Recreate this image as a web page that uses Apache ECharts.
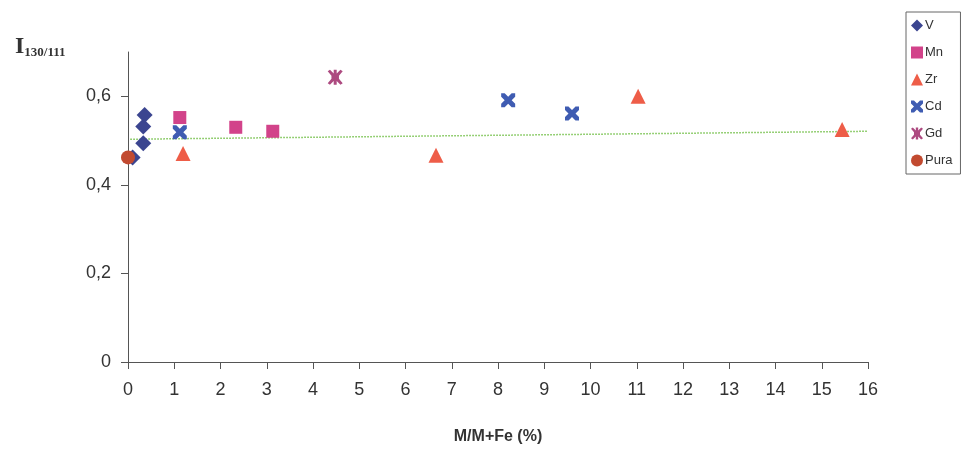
<!DOCTYPE html>
<html>
<head>
<meta charset="utf-8">
<style>
  html, body { margin: 0; padding: 0; background: #fff; }
  #chart { width: 968px; height: 453px; }
</style>
</head>
<body>
<div id="chart"></div>
<script src="https://cdn.jsdelivr.net/npm/echarts@6/dist/echarts.min.js"></script>
<script>
// values
const seriesNames = ['V', 'Mn', 'Zr', 'Cd', 'Gd', 'Pura'];
const vData = [[0.1, 0.462], [0.33, 0.494], [0.33, 0.532], [0.36, 0.558]];
const mnData = [[1.12, 0.552], [2.33, 0.530], [3.13, 0.521]];
const zrData = [[1.19, 0.471], [6.66, 0.467], [11.03, 0.600], [15.44, 0.525]];
const cdData = [[1.12, 0.519], [8.22, 0.591], [9.6, 0.561]];
const gdData = [[4.48, 0.643]];
const puraData = [[0, 0.462]];
const trendData = [[0.05, 0.503], [16, 0.521]];
const xTicks = [0, 16, 1];
const yTicks = [0, 0.7, 0.2];

const crossPath = 'path://M0,0 L2.5,0 L5,2.5 L7.5,0 L10,0 L10,2.5 L7.5,5 L10,7.5 L10,10 L7.5,10 L5,7.5 L2.5,10 L0,10 L0,7.5 L2.5,5 L0,2.5 Z';
const starPath = 'path://M0,1 L1.5,0 L4,2.5 L4,0 L6,0 L6,2.5 L8.5,0 L10,1 L7.5,4 L7.5,6 L10,9 L8.5,10 L6,7.5 L6,10 L4,10 L4,7.5 L1.5,10 L0,9 L2.5,6 L2.5,4 Z';

const colors = {
  V: '#3b4590',
  Mn: '#d2438a',
  Zr: '#ee5d48',
  Cd: '#3f5cb2',
  Gd: '#ad4a80',
  Pura: '#c24a30'
};

const chart = echarts.init(document.getElementById('chart'));

const scatter = (name, data, symbol, size) => ({
  name: name,
  type: 'scatter',
  data: data,
  symbol: symbol,
  symbolSize: size,
  itemStyle: { color: colors[name], opacity: 1 },
  z: 3
});

chart.setOption({
  animation: false,
  backgroundColor: '#fff',
  grid: { left: 128, right: 100, top: 52, bottom: 91 },
  title: {
    text: '{big|I}{sub|130/111}',
    left: 10,
    top: 30,
    textStyle: {
      rich: {
        big: { fontFamily: 'Liberation Serif', fontWeight: 'bold', fontSize: 24, color: '#333' },
        sub: { fontFamily: 'Liberation Serif', fontWeight: 'bold', fontSize: 13, color: '#333', verticalAlign: 'bottom', padding: [8, 0, 0, 0] }
      }
    }
  },
  legend: {
    orient: 'vertical',
    left: 906,
    top: 12,
    data: seriesNames,
    itemWidth: 12,
    itemHeight: 12,
    itemGap: 14,
    padding: [7, 8, 7, 5],
    borderColor: '#666',
    borderWidth: 1,
    textStyle: { fontFamily: 'Liberation Sans', fontSize: 13, color: '#333', padding: [0, 0, 0, -3] }
  },
  xAxis: {
    type: 'value',
    min: xTicks[0],
    max: xTicks[1],
    interval: xTicks[2],
    name: 'M/M+Fe (%)',
    nameLocation: 'middle',
    nameGap: 67,
    nameTextStyle: { fontFamily: 'Liberation Sans', fontWeight: 'bold', fontSize: 16, color: '#333' },
    splitLine: { show: false },
    axisLine: { lineStyle: { color: '#555', width: 1 } },
    axisTick: { show: true, length: 7, lineStyle: { color: '#555' } },
    axisLabel: { fontFamily: 'Liberation Sans', fontSize: 18, color: '#333', margin: 19 }
  },
  yAxis: {
    type: 'value',
    min: yTicks[0],
    max: yTicks[1],
    interval: yTicks[2],
    splitLine: { show: false },
    axisLine: { show: true, lineStyle: { color: '#555', width: 1 } },
    axisTick: { show: true, length: 7, lineStyle: { color: '#555' } },
    axisLabel: {
      fontFamily: 'Liberation Sans',
      fontSize: 18,
      color: '#333',
      margin: 17,
      showMaxLabel: false,
      formatter: (v) => String(v).replace('.', ',')
    }
  },
  series: [
    {
      name: 'trend',
      type: 'line',
      data: trendData,
      symbol: 'none',
      lineStyle: { color: '#74c04a', width: 1.5, type: 'dotted' },
      z: 2
    },
    scatter('V', vData, 'diamond', 16),
    scatter('Mn', mnData, 'rect', 13),
    scatter('Zr', zrData, 'triangle', 15),
    scatter('Cd', cdData, crossPath, 14),
    scatter('Gd', gdData, starPath, 15),
    scatter('Pura', puraData, 'circle', 14)
  ]
});
</script>
</body>
</html>
